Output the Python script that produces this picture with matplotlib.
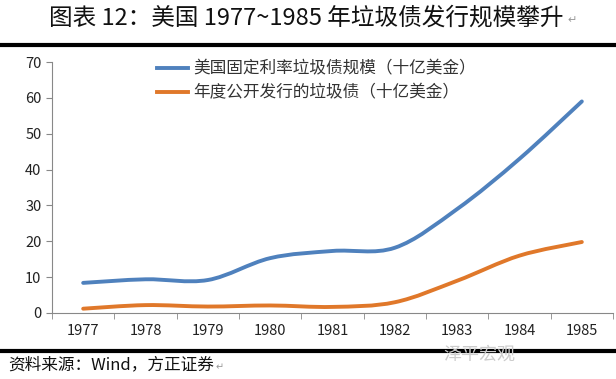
import matplotlib.pyplot as plt
from matplotlib.path import Path
from matplotlib.patches import PathPatch
from matplotlib.lines import Line2D
import numpy as np

plt.rcParams['font.family'] = ['Noto Sans CJK SC', 'DejaVu Sans']

years = ['1977', '1978', '1979', '1980', '1981', '1982', '1983', '1984', '1985']
fixed_rate = [8.4, 9.4, 9.2, 15.3, 17.3, 18.2, 29.0, 43.0, 59.0]
public_issue = [1.2, 2.2, 1.8, 2.1, 1.7, 3.0, 9.0, 16.0, 19.8]
labels = ['美国固定利率垃圾债规模（十亿美金）', '年度公开发行的垃圾债（十亿美金）']
colors = ['#4f81bd', '#e0782a']


def smooth_path(xs, ys, t=0.5):
    # Excel-style smoothed line: bezier segments through every point
    pts = np.column_stack([xs, ys]).astype(float)
    verts = [pts[0]]
    codes = [Path.MOVETO]
    n = len(pts)
    for i in range(n - 1):
        p0 = pts[max(i - 1, 0)]
        p1, p2 = pts[i], pts[i + 1]
        p3 = pts[min(i + 2, n - 1)]
        c1 = p1 + (p2 - p0) * t / 3
        c2 = p2 - (p3 - p1) * t / 3
        verts += [c1, c2, p2]
        codes += [Path.CURVE4] * 3
    return Path(verts, codes)


fig = plt.figure(figsize=(6.16, 3.79), dpi=100)
ax = fig.add_axes([52 / 616, 1 - 313 / 379, 561 / 616, 251 / 379])

x = np.arange(len(years))
for vals, c in zip([fixed_rate, public_issue], colors):
    ax.add_patch(PathPatch(smooth_path(x, vals), fill=False, edgecolor=c, lw=2.8,
                           capstyle='round'))

ax.set_xlim(-0.5, len(years) - 0.5)
ax.set_ylim(0, 70)
ax.set_yticks(range(0, 71, 10))
ax.set_xticks(x)
ax.set_xticklabels(years)
ax.set_xticks(np.arange(-0.5, len(years), 1), minor=True)
ax.tick_params(axis='x', which='major', length=0, pad=8, labelsize=10.5, colors='#222222')
ax.tick_params(axis='x', which='minor', length=4, color='#888888')
ax.tick_params(axis='y', length=4, color='#888888', labelsize=10.5, labelcolor='#222222')
for s in ['top', 'right']:
    ax.spines[s].set_visible(False)
for s in ['left', 'bottom']:
    ax.spines[s].set_color('#888888')

handles = [Line2D([], [], color=c, lw=2.8) for c in colors]
ax.legend(handles, labels, loc='upper left', bbox_to_anchor=(0.16, 1.065), frameon=False,
          fontsize=12, handlelength=1.9, handletextpad=0.3, labelspacing=0.4,
          labelcolor='#333333')

fig.text(49 / 616, 1 - 18 / 379, '图表 12：美国 1977~1985 年垃圾债发行规模攀升', ha='left',
         va='center', fontsize=17, color='#111111')
fig.text(567 / 616, 1 - 20 / 379, '↵', ha='left', va='center', fontsize=8, color='#999999',
         family='DejaVu Sans')
fig.add_artist(Line2D([0, 1], [1 - 45 / 379, 1 - 45 / 379], color='black', lw=3))
fig.add_artist(Line2D([0, 1], [1 - 351 / 379, 1 - 351 / 379], color='black', lw=3))
fig.text(8 / 616, 1 - 365 / 379, '资料来源：Wind，方正证券', ha='left', va='center',
         fontsize=12, style='italic', color='#111111')
fig.text(216 / 616, 1 - 367 / 379, '↵', ha='left', va='center', fontsize=7, color='#999999',
         family='DejaVu Sans')
fig.text(443 / 616, 1 - 355 / 379, '泽平宏观', ha='left', va='center', fontsize=13,
         color='#cccccc')

fig.savefig('out.png', dpi=100)
